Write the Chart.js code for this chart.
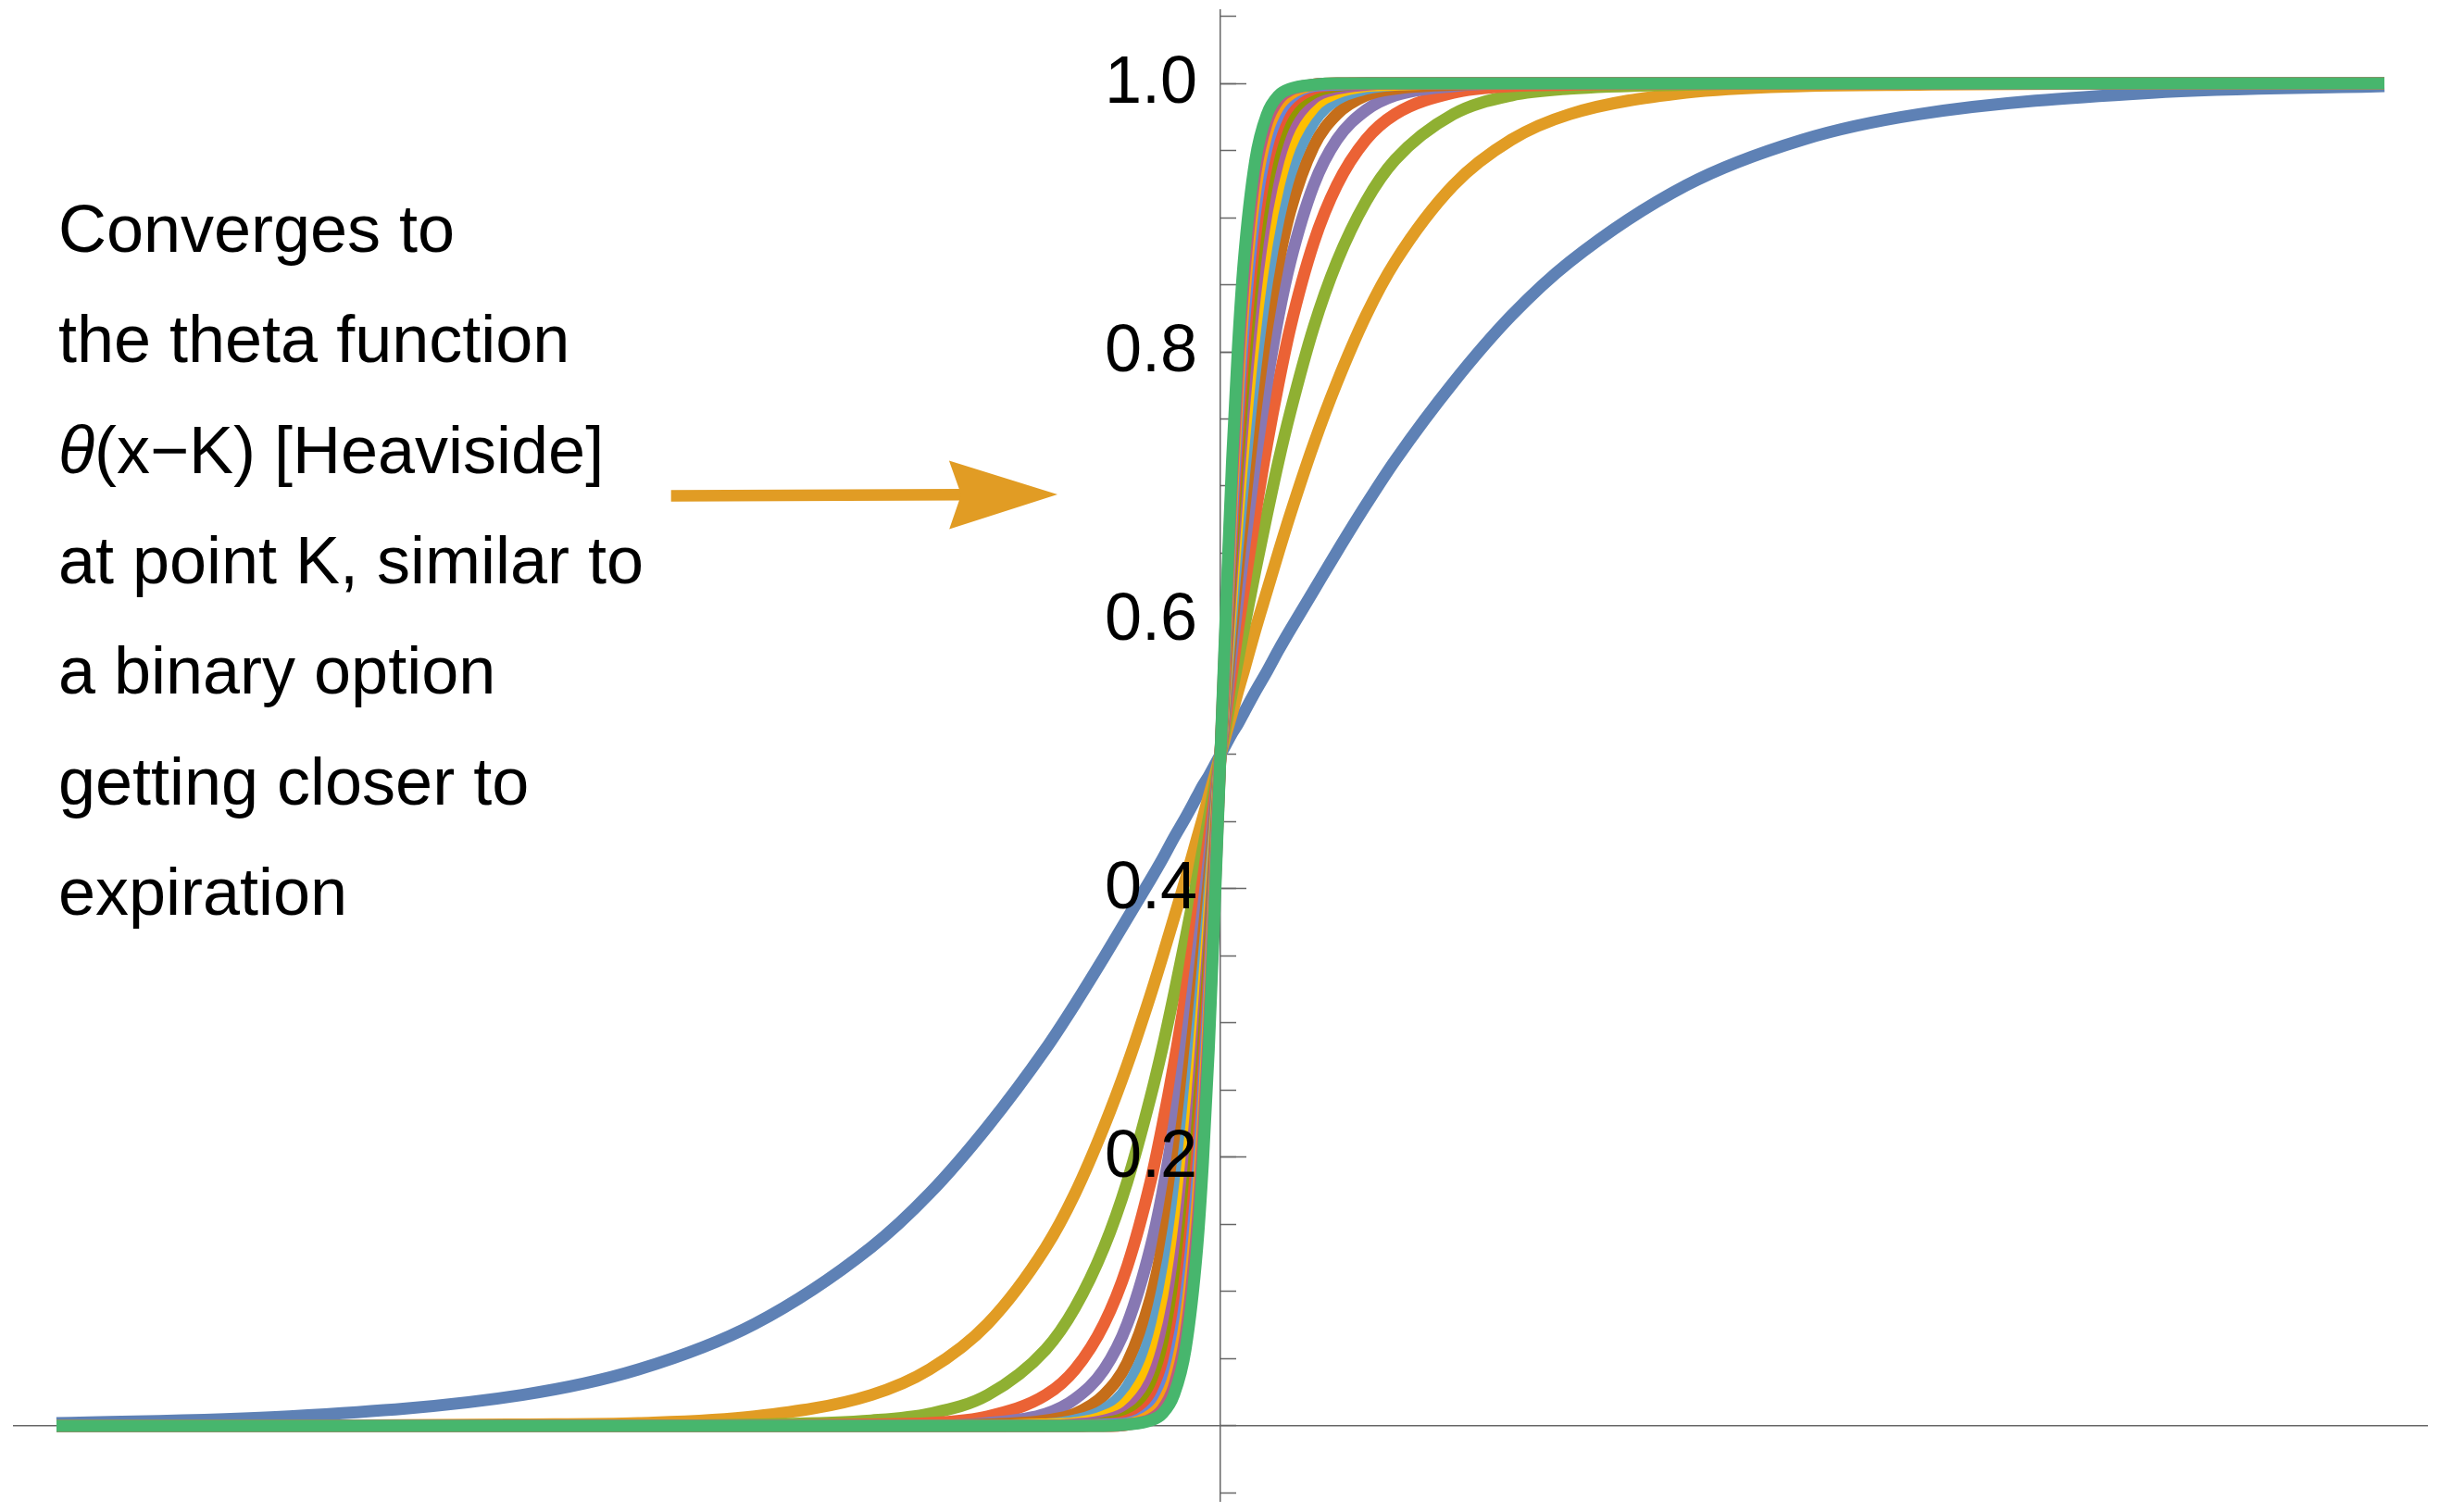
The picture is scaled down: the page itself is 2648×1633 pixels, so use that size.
<!DOCTYPE html>
<html>
<head>
<meta charset="utf-8">
<script src="https://cdn.jsdelivr.net/npm/chart.js@4.4.1/dist/chart.umd.min.js"></script>
<style>
  html, body { margin: 0; padding: 0; background: #fff; overflow: hidden; }
  #wrap { width: 2648px; height: 1633px; }
</style>
</head>
<body>
<div id="wrap"><canvas id="chart" width="2648" height="1633"></canvas></div>
<script>
// x positions (distance from the strike K, which sits at 0)
const xs = [-1, -0.8, -0.6, -0.5, -0.4, -0.3, -0.25, -0.2, -0.15, -0.125, -0.1, -0.08, -0.06, -0.05, -0.04, -0.03, -0.02, -0.015, -0.01, -0.005,
  0, 0.005, 0.01, 0.015, 0.02, 0.03, 0.04, 0.05, 0.06, 0.08, 0.1, 0.125, 0.15, 0.2, 0.25, 0.3, 0.4, 0.5, 0.6, 0.8, 1];

// one curve per time-to-expiry, widest first
const curve1 = [0.002, 0.007, 0.023, 0.042, 0.076, 0.133, 0.173, 0.223, 0.281, 0.314, 0.349, 0.378, 0.407, 0.422, 0.438, 0.453, 0.469, 0.477, 0.484, 0.492,
  0.5, 0.508, 0.516, 0.523, 0.531, 0.547, 0.562, 0.578, 0.593, 0.622, 0.651, 0.686, 0.719, 0.777, 0.827, 0.867, 0.924, 0.958, 0.977, 0.993, 0.998];
const curve2 = [0, 0, 0.001, 0.002, 0.007, 0.023, 0.042, 0.076, 0.133, 0.173, 0.223, 0.269, 0.321, 0.349, 0.378, 0.407, 0.438, 0.453, 0.469, 0.484,
  0.5, 0.516, 0.531, 0.547, 0.562, 0.593, 0.622, 0.651, 0.679, 0.731, 0.777, 0.827, 0.867, 0.924, 0.958, 0.977, 0.993, 0.998, 0.999, 1, 1];
const curve3 = [0, 0, 0, 0, 0.001, 0.004, 0.009, 0.023, 0.057, 0.088, 0.133, 0.182, 0.245, 0.281, 0.321, 0.363, 0.407, 0.430, 0.453, 0.477,
  0.5, 0.523, 0.547, 0.570, 0.593, 0.637, 0.679, 0.719, 0.755, 0.818, 0.867, 0.912, 0.943, 0.977, 0.991, 0.996, 0.999, 1, 1, 1, 1];
const curve4 = [0, 0, 0, 0, 0, 0.001, 0.002, 0.007, 0.023, 0.042, 0.076, 0.119, 0.182, 0.223, 0.269, 0.321, 0.378, 0.407, 0.438, 0.469,
  0.5, 0.531, 0.562, 0.593, 0.622, 0.679, 0.731, 0.777, 0.818, 0.881, 0.924, 0.958, 0.977, 0.993, 0.998, 0.999, 1, 1, 1, 1, 1];
const curve5 = [0, 0, 0, 0, 0, 0, 0, 0.002, 0.009, 0.020, 0.042, 0.076, 0.133, 0.173, 0.223, 0.281, 0.349, 0.385, 0.422, 0.461,
  0.5, 0.539, 0.578, 0.615, 0.651, 0.719, 0.777, 0.827, 0.867, 0.924, 0.958, 0.980, 0.991, 0.998, 1, 1, 1, 1, 1, 1, 1];
const curve6 = [0, 0, 0, 0, 0, 0, 0, 0.001, 0.004, 0.009, 0.023, 0.047, 0.095, 0.133, 0.182, 0.245, 0.321, 0.363, 0.407, 0.453,
  0.5, 0.547, 0.593, 0.637, 0.679, 0.755, 0.818, 0.867, 0.905, 0.953, 0.977, 0.991, 0.996, 0.999, 1, 1, 1, 1, 1, 1, 1];
const curve7 = [0, 0, 0, 0, 0, 0, 0, 0, 0.001, 0.004, 0.012, 0.029, 0.067, 0.101, 0.148, 0.212, 0.294, 0.342, 0.392, 0.445,
  0.5, 0.555, 0.608, 0.658, 0.706, 0.788, 0.852, 0.899, 0.933, 0.971, 0.988, 0.996, 0.999, 1, 1, 1, 1, 1, 1, 1, 1];
const curve8 = [0, 0, 0, 0, 0, 0, 0, 0, 0.001, 0.002, 0.007, 0.018, 0.047, 0.076, 0.119, 0.182, 0.269, 0.321, 0.378, 0.438,
  0.5, 0.562, 0.622, 0.679, 0.731, 0.818, 0.881, 0.924, 0.953, 0.982, 0.993, 0.998, 0.999, 1, 1, 1, 1, 1, 1, 1, 1];
const curve9 = [0, 0, 0, 0, 0, 0, 0, 0, 0, 0.001, 0.004, 0.011, 0.033, 0.057, 0.095, 0.156, 0.245, 0.301, 0.363, 0.430,
  0.5, 0.570, 0.637, 0.699, 0.755, 0.844, 0.905, 0.943, 0.967, 0.989, 0.996, 0.999, 1, 1, 1, 1, 1, 1, 1, 1, 1];
const curve10 = [0, 0, 0, 0, 0, 0, 0, 0, 0, 0, 0.002, 0.007, 0.023, 0.042, 0.076, 0.133, 0.223, 0.281, 0.349, 0.422,
  0.5, 0.578, 0.651, 0.719, 0.777, 0.867, 0.924, 0.958, 0.977, 0.993, 0.998, 1, 1, 1, 1, 1, 1, 1, 1, 1, 1];
const curve11 = [0, 0, 0, 0, 0, 0, 0, 0, 0, 0, 0.001, 0.004, 0.016, 0.031, 0.060, 0.113, 0.202, 0.263, 0.335, 0.415,
  0.5, 0.585, 0.665, 0.737, 0.798, 0.887, 0.940, 0.969, 0.984, 0.996, 0.999, 1, 1, 1, 1, 1, 1, 1, 1, 1, 1];
const curve12 = [0, 0, 0, 0, 0, 0, 0, 0, 0, 0, 0.001, 0.002, 0.011, 0.023, 0.047, 0.095, 0.182, 0.245, 0.321, 0.407,
  0.5, 0.593, 0.679, 0.755, 0.818, 0.905, 0.953, 0.977, 0.989, 0.998, 0.999, 1, 1, 1, 1, 1, 1, 1, 1, 1, 1];
const curve13 = [0, 0, 0, 0, 0, 0, 0, 0, 0, 0, 0, 0.001, 0.008, 0.017, 0.037, 0.080, 0.164, 0.228, 0.307, 0.400,
  0.5, 0.600, 0.693, 0.772, 0.836, 0.920, 0.963, 0.983, 0.992, 0.999, 1, 1, 1, 1, 1, 1, 1, 1, 1, 1, 1];
const curve14 = [0, 0, 0, 0, 0, 0, 0, 0, 0, 0, 0, 0.001, 0.005, 0.012, 0.029, 0.067, 0.148, 0.212, 0.294, 0.392,
  0.5, 0.608, 0.706, 0.788, 0.852, 0.933, 0.971, 0.988, 0.995, 0.999, 1, 1, 1, 1, 1, 1, 1, 1, 1, 1, 1];
const curve15 = [0, 0, 0, 0, 0, 0, 0, 0, 0, 0, 0, 0.001, 0.004, 0.009, 0.023, 0.057, 0.133, 0.197, 0.281, 0.385,
  0.5, 0.615, 0.719, 0.803, 0.867, 0.943, 0.977, 0.991, 0.996, 0.999, 1, 1, 1, 1, 1, 1, 1, 1, 1, 1, 1];

const curves = [curve1, curve2, curve3, curve4, curve5, curve6, curve7, curve8, curve9, curve10, curve11, curve12, curve13, curve14, curve15];
const curveColors = ['#5E81B5', '#E19C24', '#8FB032', '#EB6235', '#8778B3', '#C56E1A', '#5D9EC7', '#FFBF00',
  '#A5609D', '#929600', '#E95536', '#6685D9', '#F89F13', '#BC5B80', '#47B66D'];

const yLabelTicks = [0.2, 0.4, 0.6, 0.8, 1.0];

// annotation text, left column
const noteLines = ['Converges to', 'the theta function', 'θ(x−K) [Heaviside]', 'at point K, similar to',
  'a binary option', 'getting closer to', 'expiration'];
const noteX = -0.9985;
const noteTopY = 0.8745;
const noteStep = 0.0823;
const arrowFrom = [-0.472, 0.6928];
const arrowTo = [-0.140, 0.6938];

const FONT = "'Liberation Sans', Arial, sans-serif";
const AXIS = '#666666';
const Y_MIN = -0.0559, Y_MAX = 1.0545;

const noPad = (scale) => { scale.paddingTop = 0; scale.paddingBottom = 0; scale.paddingLeft = 0; scale.paddingRight = 0; };
const majorTicks = (scale) => { scale.ticks = yLabelTicks.map(v => ({ value: v })); };

const notePlugin = {
  id: 'note',
  afterDatasetsDraw(chart) {
    const { ctx, scales: { x, y } } = chart;
    ctx.save();

    // arrow
    const x0 = x.getPixelForValue(arrowFrom[0]), y0 = y.getPixelForValue(arrowFrom[1]);
    const x1 = x.getPixelForValue(arrowTo[0]), y1 = y.getPixelForValue(arrowTo[1]);
    const ang = Math.atan2(y1 - y0, x1 - x0);
    const ux = Math.cos(ang), uy = Math.sin(ang);
    const headLen = 117, headHalf = 37, notch = 104;
    ctx.strokeStyle = '#E19C24';
    ctx.fillStyle = '#E19C24';
    ctx.lineWidth = 12.5;
    ctx.lineCap = 'butt';
    ctx.beginPath();
    ctx.moveTo(x0, y0);
    ctx.lineTo(x1 - ux * notch, y1 - uy * notch);
    ctx.stroke();
    ctx.beginPath();
    ctx.moveTo(x1, y1);
    ctx.lineTo(x1 - ux * headLen - uy * headHalf, y1 - uy * headLen + ux * headHalf);
    ctx.lineTo(x1 - ux * notch, y1 - uy * notch);
    ctx.lineTo(x1 - ux * headLen + uy * headHalf, y1 - uy * headLen - ux * headHalf);
    ctx.closePath();
    ctx.fill();

    // text
    ctx.fillStyle = '#000';
    ctx.textAlign = 'left';
    ctx.textBaseline = 'alphabetic';
    noteLines.forEach((line, i) => {
      let px = x.getPixelForValue(noteX);
      const py = y.getPixelForValue(noteTopY - i * noteStep);
      let rest = line;
      if (line.startsWith('θ')) {
        ctx.font = 'italic 72px ' + FONT;
        ctx.fillText('θ', px, py);
        px += ctx.measureText('θ').width;
        rest = line.slice(1);
      }
      ctx.font = '72px ' + FONT;
      ctx.fillText(rest, px, py);
    });
    ctx.restore();
  }
};

new Chart(document.getElementById('chart'), {
  type: 'line',
  data: {
    datasets: curves.map((c, i) => ({
      data: xs.map((x, j) => ({ x, y: c[j] })),
      borderColor: curveColors[i],
      borderWidth: 13,
      pointRadius: 0,
      fill: false,
      cubicInterpolationMode: 'monotone',
      borderCapStyle: 'butt',
      borderJoinStyle: 'round',
      order: curves.length - i
    }))
  },
  options: {
    responsive: false,
    devicePixelRatio: 1,
    animation: false,
    events: [],
    layout: { padding: { left: 15, right: 27, top: 11, bottom: 12 } },
    plugins: { legend: { display: false }, tooltip: { enabled: false } },
    scales: {
      x: {
        type: 'linear',
        min: -1.0366,
        max: 1.0366,
        position: { y: 0 },
        afterFit: noPad,
        ticks: { display: false },
        grid: { display: true, drawOnChartArea: false, drawTicks: false },
        border: { display: true, color: AXIS, width: 1.5 }
      },
      // axis line + long ticks at the labelled values
      y: {
        type: 'linear',
        min: Y_MIN,
        max: Y_MAX,
        position: { x: 0 },
        afterFit: noPad,
        afterBuildTicks: majorTicks,
        ticks: { display: false, autoSkip: false },
        grid: { drawOnChartArea: false, drawTicks: true, tickLength: -29, tickColor: AXIS, tickWidth: 1.5 },
        border: { display: true, color: AXIS, width: 1.5 }
      },
      // short ticks every 0.05
      yMinor: {
        type: 'linear',
        min: Y_MIN,
        max: Y_MAX,
        position: { x: 0 },
        afterFit: noPad,
        ticks: { display: false, stepSize: 0.05, includeBounds: false, autoSkip: false, maxTicksLimit: 100 },
        grid: { drawOnChartArea: false, drawTicks: true, tickLength: -17, tickColor: AXIS, tickWidth: 1.5 },
        border: { display: false }
      },
      // tick labels, set just left of the axis, drawn above the curves
      yLabels: {
        type: 'linear',
        min: Y_MIN,
        max: Y_MAX,
        position: { x: -0.0199 },
        afterFit: noPad,
        afterBuildTicks: majorTicks,
        ticks: {
          callback: (v) => v.toFixed(1),
          font: { family: FONT, size: 72 },
          color: '#000',
          labelOffset: 1,
          autoSkip: false,
          z: 1
        },
        grid: { display: false, drawTicks: false },
        border: { display: false }
      }
    }
  },
  plugins: [notePlugin]
});
</script>
</body>
</html>
